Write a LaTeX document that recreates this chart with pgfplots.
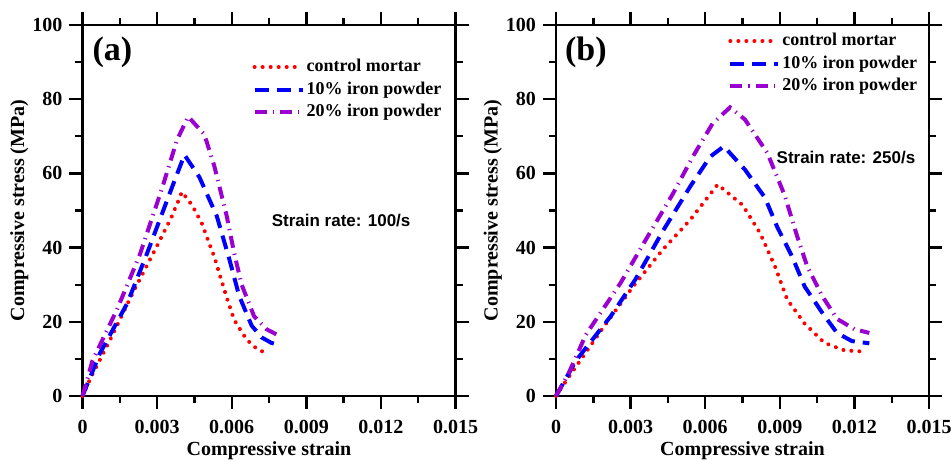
\documentclass[border=0pt]{standalone}
\usepackage{fontspec}
\setmainfont{Liberation Serif}
\newfontfamily\arialfont{Liberation Sans}
\usepackage{pgfplots}
\pgfplotsset{compat=1.18}
\definecolor{ctrl}{HTML}{FF0000}
\definecolor{tenp}{HTML}{0000FF}
\definecolor{twentyp}{HTML}{9A00D0}

\pgfplotsset{
  mortar/.style={
    width=186.5pt, height=185.5pt, scale only axis,
    xmin=0, xmax=0.015, ymin=0, ymax=100,
    xtick={0,0.003,0.006,0.009,0.012,0.015},
    xticklabels={0,0.003,0.006,0.009,0.012,0.015},
    ytick={0,20,40,60,80,100},
    yticklabels={0,20,40,60,80,100},
    scaled x ticks=false,
    minor x tick num=1, minor y tick num=1,
    tick align=outside, tick pos=both,
    major tick length=6.5pt, minor tick length=3.5pt,
    every tick/.style={black, line width=1.2pt},
    axis line style={line width=1.3pt},
    ticklabel style={font=\fontsize{10}{12}\selectfont\bfseries},
    xticklabel style={yshift=-2pt},
    label style={font=\fontsize{10}{12}\selectfont\bfseries},
    xlabel={Compressive strain},
    ylabel={Compressive stress (MPa)},
    xlabel style={at={(axis description cs:0.5,0)}, anchor=north, yshift=-19.5pt},
    ylabel style={at={(axis description cs:0,0.5)}, anchor=south, yshift=23.5pt},
    legend style={draw=none, fill=none, anchor=north west,
      font=\fontsize{9}{10}\selectfont\bfseries, row sep=1.5pt,
      inner sep=0pt, nodes={inner sep=1pt}},
    legend cell align=left,
    legend image code/.code={\draw[#1] (0pt,0pt) -- (24pt,0pt);},
    clip=false,
  },
  redd/.style={ctrl, line width=2pt, line cap=round, dash pattern=on 0.01pt off 4pt},
  blued/.style={tenp, line width=2pt, dash pattern=on 7pt off 4pt},
  purpd/.style={twentyp, line width=2pt, dash pattern=on 6pt off 3pt on 0.6pt off 3pt},
}

\begin{document}
\begin{tikzpicture}
\path[use as bounding box] (0,0) rectangle (475.5pt,230pt);

\begin{axis}[mortar, at={(41.25pt,32pt)}, anchor=origin,
  legend style={at={(axis description cs:0.455,0.914)}}]
  \addplot[redd] coordinates {
    (0,0) (0.0003,4.5) (0.0011,15) (0.002,27.5) (0.003,40.5) (0.0036,48.5)
    (0.004,55) (0.0044,51.5) (0.0048,46.5) (0.0053,37.5) (0.0058,26.5)
    (0.0061,20.5) (0.0066,15.2) (0.0070,12.8) (0.0073,11.8)};
  \addplot[blued] coordinates {
    (0,0) (0.0007,11.5) (0.0018,25) (0.0026,38.5) (0.0035,54.5) (0.0041,65)
    (0.0047,59) (0.0054,48.5) (0.0059,37) (0.0063,27) (0.0068,19)
    (0.0072,15.8) (0.0076,14.3) (0.0080,13.6)};
  \addplot[purpd] coordinates {
    (0,0) (0.0004,9.5) (0.0014,23.5) (0.0023,38) (0.0032,56) (0.0038,69)
    (0.00425,75.3) (0.0049,70.5) (0.0053,62) (0.0058,48.5) (0.0061,38.5)
    (0.0064,30) (0.0069,21.5) (0.0074,18) (0.0078,16.6)};
  \legend{control mortar, 10\% iron powder, 20\% iron powder}
  \node[font=\fontsize{17}{20}\selectfont\bfseries] at (axis cs:0.0012,92.7) {(a)};
  \node[font=\arialfont\fontsize{8.5}{10}\selectfont\bfseries] at (axis cs:0.0104,47.4) {Strain rate: 100/s};
\end{axis}

\begin{axis}[mortar, at={(278pt,32pt)}, anchor=origin,
  legend style={at={(axis description cs:0.461,0.984)}}]
  \addplot[redd] coordinates {
    (0,0) (0.0005,5) (0.0019,18.5) (0.0031,29.5) (0.0043,39.5) (0.0054,47.5)
    (0.0065,57) (0.0075,51.5) (0.0082,44) (0.0088,35) (0.0093,26)
    (0.0100,19.5) (0.0108,14.3) (0.0116,12.3) (0.0123,12)};
  \addplot[blued] coordinates {
    (0,0) (0.0008,9.5) (0.0022,21.5) (0.0032,31.5) (0.0043,44.5) (0.0054,56.5)
    (0.0062,64.5) (0.00675,67.3) (0.0076,61) (0.0084,53.5) (0.0089,45.5)
    (0.0095,37.5) (0.0100,29.5) (0.0107,22.5) (0.0113,17) (0.0119,14.8)
    (0.0126,14.2)};
  \addplot[purpd] coordinates {
    (0,0) (0.0005,6) (0.0012,16.5) (0.0026,30.5) (0.0036,42) (0.0047,54.5)
    (0.0055,64.5) (0.0063,73.5) (0.0070,77.8) (0.0076,74.5) (0.0085,65.5)
    (0.0092,54) (0.0097,43) (0.0101,35) (0.0107,27) (0.0113,20.8)
    (0.0120,18) (0.0126,17)};
  \legend{control mortar, 10\% iron powder, 20\% iron powder}
  \node[font=\fontsize{17}{20}\selectfont\bfseries] at (axis cs:0.0012,92.5) {(b)};
  \node[font=\arialfont\fontsize{8.5}{10}\selectfont\bfseries] at (axis cs:0.01166,64.4) {Strain rate: 250/s};
\end{axis}
\end{tikzpicture}
\end{document}
